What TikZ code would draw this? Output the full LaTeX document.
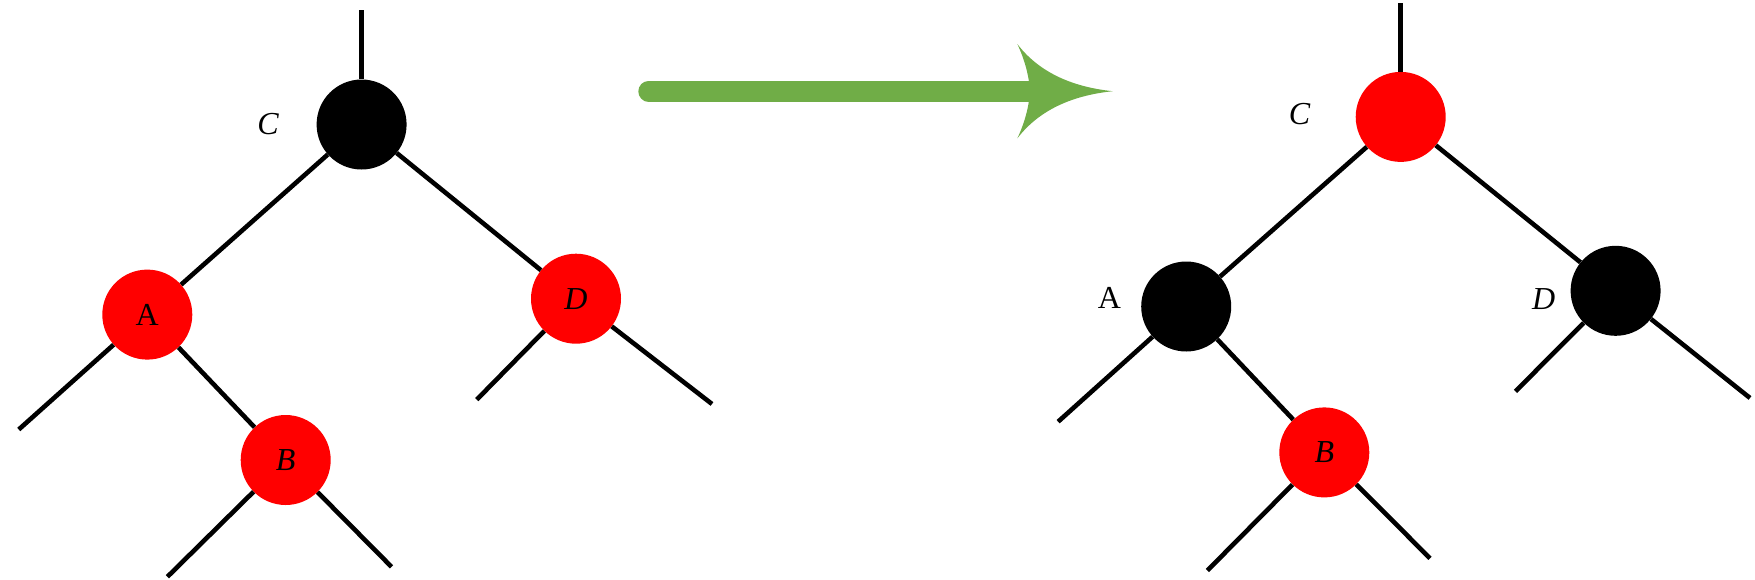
\documentclass[tikz,border=0pt]{standalone}
\usepackage{fontspec}
\setmainfont{Liberation Serif}
\definecolor{nodered}{HTML}{FF0000}
\definecolor{arrowgreen}{HTML}{70AD47}
\begin{document}
\begin{tikzpicture}[x=1pt,y=-1pt,
  rb/.style={circle,minimum size=90pt,inner sep=0pt,fill=#1},
  edge/.style={line width=4.6pt,black},
  lbl/.style={font=\fontsize{32}{36}\selectfont,inner sep=0pt},
  greenarrow/.style={line width=20.6pt,arrowgreen,line cap=round}]
\useasboundingbox (0,0) rectangle (1755,579);
% ---------- left tree ----------
\node[rb=black] (lC) at (361.6,124.5) {};
\node[rb=nodered,lbl] (lA) at (147.3,314.6) {A};
\node[rb=nodered,lbl] (lD) at (576,298.7) {\itshape D};
\node[rb=nodered,lbl] (lB) at (285.7,460) {\itshape B};
\node[lbl] (lClbl) at (268,124) {\itshape C};
\coordinate (lTop) at (361.6,10.3);
\coordinate (lAl) at (18.75,429.5);
\coordinate (lDl) at (476.8,399.6);
\coordinate (lDr) at (712,404);
\coordinate (lBl) at (167.4,576.8);
\coordinate (lBr) at (391.5,566.8);
\draw[edge] (lTop) -- (lC);
\draw[edge] (lC) -- (lA);
\draw[edge] (lC) -- (lD);
\draw[edge] (lA) -- (lAl);
\draw[edge] (lA) -- (lB);
\draw[edge] (lD) -- (lDl);
\draw[edge] (lD) -- (lDr);
\draw[edge] (lB) -- (lBl);
\draw[edge] (lB) -- (lBr);
% ---------- arrow ----------
\coordinate (aS) at (648.6,91.2);
\coordinate (aE) at (1030,91.2);
\draw[greenarrow] (aS) -- (aE);
\fill[arrowgreen] (1017.3,44) .. controls (1038,71) and (1069.8,86.7) .. (1112.7,91.2)
  .. controls (1069.8,95.7) and (1038,111.4) .. (1017.3,138.4)
  .. controls (1024.6,122.9) and (1028.9,107.2) .. (1030,91.2)
  .. controls (1028.9,75.2) and (1024.6,59.5) .. (1017.3,44) -- cycle;
% ---------- right tree ----------
\node[rb=nodered] (rC) at (1400.7,116.9) {};
\node[rb=black] (rA) at (1186.2,306.5) {};
\node[rb=black] (rD) at (1615.6,290.8) {};
\node[rb=nodered,lbl] (rB) at (1324.3,452.4) {\itshape B};
\node[lbl] (rClbl) at (1299.5,114.5) {\itshape C};
\node[lbl] (rAlbl) at (1109.4,298.4) {A};
\node[lbl] (rDlbl) at (1543.7,299.1) {\itshape D};
\coordinate (rTop) at (1400.7,3);
\coordinate (rAl) at (1058.1,421.7);
\coordinate (rDl) at (1515.4,391.4);
\coordinate (rDr) at (1750,398);
\coordinate (rBl) at (1207.4,570.5);
\coordinate (rBr) at (1430,558.3);
\draw[edge] (rTop) -- (rC);
\draw[edge] (rC) -- (rA);
\draw[edge] (rC) -- (rD);
\draw[edge] (rA) -- (rAl);
\draw[edge] (rA) -- (rB);
\draw[edge] (rD) -- (rDl);
\draw[edge] (rD) -- (rDr);
\draw[edge] (rB) -- (rBl);
\draw[edge] (rB) -- (rBr);
\end{tikzpicture}
\end{document}
